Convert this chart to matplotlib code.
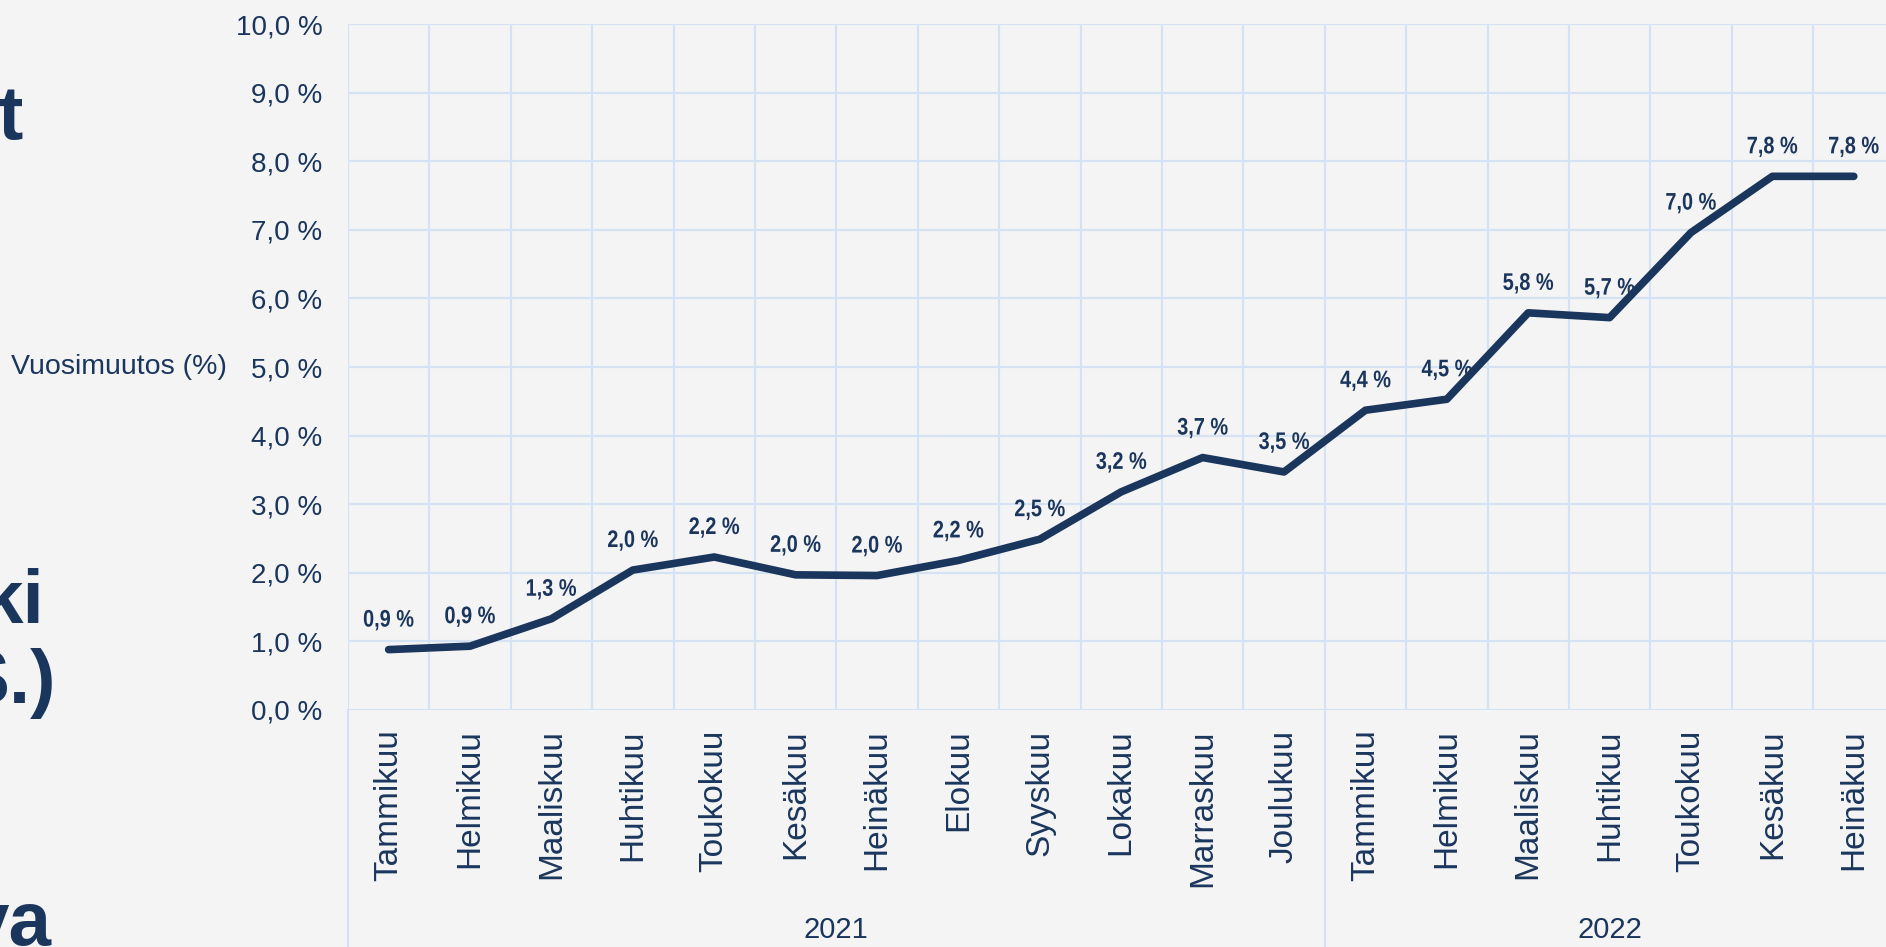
import matplotlib
matplotlib.use("Agg")
import matplotlib.pyplot as plt
from matplotlib.font_manager import FontProperties
from matplotlib.textpath import TextPath
from matplotlib.patches import PathPatch
from matplotlib.transforms import Affine2D, ScaledTranslation

# kuukaudet ja vuosimuutos (%)
months = ["Tammikuu", "Helmikuu", "Maaliskuu", "Huhtikuu", "Toukokuu", "Kesäkuu",
          "Heinäkuu", "Elokuu", "Syyskuu", "Lokakuu", "Marraskuu", "Joulukuu",
          "Tammikuu", "Helmikuu", "Maaliskuu", "Huhtikuu", "Toukokuu", "Kesäkuu",
          "Heinäkuu"]
values = [0.88, 0.93, 1.33, 2.04, 2.23, 1.97, 1.96, 2.18, 2.49, 3.18, 3.68, 3.47,
          4.37, 4.53, 5.79, 5.72, 6.96, 7.78, 7.78]
years = ["2021", "2022"]
year_months = [12, 7]
slide_text = ["t", "ki", "S.)", "ya"]

navy = "#1b365d"
grid_col = "#d5e2f4"
bg = "#f4f4f4"

plt.rcParams['font.family'] = ['Liberation Sans', 'DejaVu Sans']

fig = plt.figure(figsize=(18.86, 9.47), dpi=100, facecolor=bg)
ax = fig.add_axes([0.1845, 0.2503, 0.8200, 0.7243])
ax.set_facecolor(bg)

x = list(range(len(months)))
ax.plot(x, values, color=navy, lw=5.5, solid_capstyle='round', solid_joinstyle='round', zorder=3)

# arvot kapealla lihavoidulla tekstillä (Arial Narrow -tyyli)
bold = FontProperties(family='Liberation Sans', weight='bold')
for xi, v in zip(x, values):
    s = f"{v:.1f} %".replace('.', ',')
    tp = TextPath((0, 0), s, size=24, prop=bold)
    ext = tp.get_extents()
    tr = (Affine2D().translate(-(ext.x0 + ext.x1) / 2, 0).scale(0.83, 1.0).translate(0, 23)
          + ScaledTranslation(xi, v, ax.transData))
    ax.add_patch(PathPatch(tp, transform=tr, facecolor=navy, lw=0, clip_on=False, zorder=4))

ax.set_xlim(-0.5, len(months) - 0.5)
ax.set_ylim(0, 10)

yt = list(range(0, 11))
ax.set_yticks(yt)
ax.set_yticklabels([f"{t:.1f} %".replace('.', ',') for t in yt], fontsize=20, color=navy)
ax.set_xticks(x)
ax.set_xticklabels(months, rotation=90, fontsize=24, color=navy, va='top')
ax.tick_params(axis='both', length=0)
ax.tick_params(axis='y', pad=18.5)
ax.tick_params(axis='x', pad=14)

for s in ax.spines.values():
    s.set_visible(False)

for t in yt:
    ax.axhline(t, color=grid_col, lw=1.6, zorder=1)
for b in range(len(months) + 1):
    ax.axvline(b - 0.5, color=grid_col, lw=1.6, zorder=1)

# vuosien erotinviivat ja vuosiotsikot
start = 0
for yr, n in zip(years, year_months):
    ax.axvline(start - 0.5, ymin=-0.4, ymax=0, color=grid_col, lw=1.6, clip_on=False)
    ax.text(start + (n - 1) / 2, -0.3207, yr, transform=ax.get_xaxis_transform(),
            ha='center', va='center', fontsize=21, color=navy)
    start += n

fig.text(227 / 1886, 1 - 367 / 947, "Vuosimuutos (%)", ha='right', va='center',
         fontsize=20.5, color=navy)

# dian tekstin reunat vasemmalla
pos = [(23, 139), (44, 623), (56, 703), (51, 945)]
for txt, (px, py) in zip(slide_text, pos):
    fig.text(px / 1886, 1 - py / 947, txt, ha='right', va='baseline',
             fontsize=55, fontweight='bold', color=navy)

fig.savefig("out.png", dpi=100, facecolor=bg)
